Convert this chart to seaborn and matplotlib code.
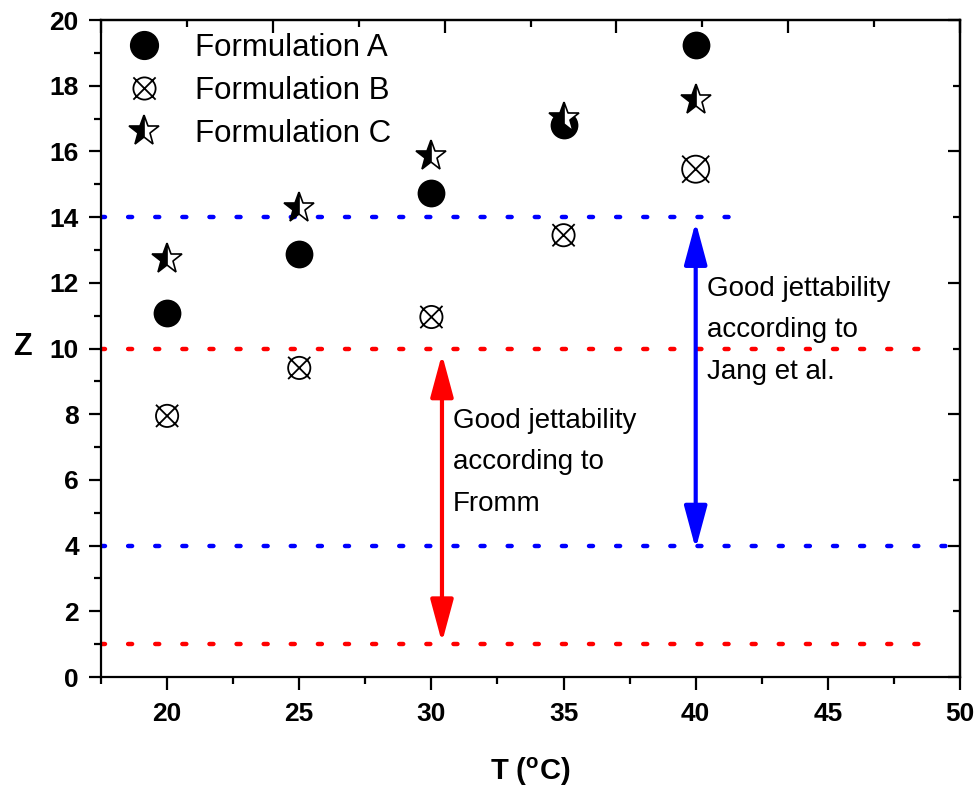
import numpy as np
import pandas as pd
import matplotlib
matplotlib.use("Agg")
import matplotlib.pyplot as plt
from matplotlib.path import Path
from matplotlib.lines import Line2D
import seaborn as sns

# ---------------- data ----------------
temperature = [20, 25, 30, 35, 40]
form_a = [11.08, 12.88, 14.73, 16.80, 19.24]
form_b = [7.95, 9.41, 10.96, 13.45, 15.46]
form_c = [12.72, 14.28, 15.86, 17.02, 17.56]
series_names = ["Formulation A", "Formulation B", "Formulation C"]

fromm_limits = [1, 10]        # red dotted lines
jang_limits = [4, 14]         # blue dotted lines
fromm_line_ends = [49.1, 49.1]
jang_line_ends = [50.0, 41.8]
fromm_arrow_x = 30.4
jang_arrow_x = 40.0
fromm_text = "Good jettability\naccording to\nFromm"
jang_text = "Good jettability\naccording to\nJang et al."

x_ticks = [20, 25, 30, 35, 40, 45, 50]
y_ticks = [0, 2, 4, 6, 8, 10, 12, 14, 16, 18, 20]

# ---------------- style ----------------
sns.set_theme(style="ticks")
plt.rcParams["font.family"] = ["Liberation Sans", "DejaVu Sans"]
plt.rcParams["mathtext.default"] = "regular"
plt.rcParams["axes.linewidth"] = 1.6
for key in ["text.color", "axes.labelcolor", "xtick.color", "ytick.color",
            "axes.edgecolor"]:
    plt.rcParams[key] = "black"

df = pd.DataFrame({"T": temperature, "A": form_a, "B": form_b, "C": form_c})

fig = plt.figure(figsize=(9.77, 7.9), dpi=100)
ax = fig.add_axes([0.1034, 0.143, 0.8792, 0.8316])

# reference lines
dot_style = (0, (0.9, 5.2))
for yv, xe in zip(fromm_limits, fromm_line_ends):
    ax.plot([17.5, xe], [yv, yv], color="#ff0000", linestyle=dot_style,
            linewidth=3.2, dash_capstyle="round", zorder=1)
for yv, xe in zip(jang_limits, jang_line_ends):
    ax.plot([17.5, xe], [yv, yv], color="#0000ff", linestyle=dot_style,
            linewidth=3.2, dash_capstyle="round", zorder=1)

# Formulation A: filled circles
sns.scatterplot(data=df, x="T", y="A", ax=ax, marker="o", s=400,
                color="black", edgecolor="black", linewidth=0, zorder=3)

# Formulation B: circle with X
circ = Path.unit_circle()
xverts = [(-1, -1), (1, 1), (-1, 1), (1, -1)]
xcodes = [Path.MOVETO, Path.LINETO, Path.MOVETO, Path.LINETO]
cross_circle = Path.make_compound_path(circ, Path(xverts, xcodes))
b_sizes = [256, 256, 256, 256, 380]
sns.scatterplot(data=df, x="T", y="B", ax=ax, marker=cross_circle, s=b_sizes,
                color="black", facecolor="none", edgecolor="black",
                linewidth=1.3, zorder=3)

# Formulation C: half-filled stars
sns.lineplot(data=df, x="T", y="C", ax=ax, marker="*", markersize=23,
             linestyle="", color="black", fillstyle="left",
             markerfacecolor="black", markerfacecoloralt="white",
             markeredgecolor="black", markeredgewidth=1.2, zorder=4)

# arrows
arrow_style = "<|-|>,head_length=1.3,head_width=0.35"
ax.annotate("", xy=(fromm_arrow_x, fromm_limits[0] + 0.05),
            xytext=(fromm_arrow_x, fromm_limits[1] - 0.17),
            arrowprops=dict(arrowstyle=arrow_style, color="#ff0000", lw=3,
                            mutation_scale=20, shrinkA=0, shrinkB=0), zorder=5)
ax.annotate("", xy=(jang_arrow_x, jang_limits[0] - 0.1),
            xytext=(jang_arrow_x, jang_limits[1] - 0.14),
            arrowprops=dict(arrowstyle=arrow_style, color="#0000ff", lw=3,
                            mutation_scale=20, shrinkA=0, shrinkB=0), zorder=5)

ax.text(30.8, 6.54, fromm_text, fontsize=20, va="center", ha="left",
        linespacing=1.78)
ax.text(40.42, 10.56, jang_text, fontsize=20, va="center", ha="left",
        linespacing=1.78)

# axes limits / ticks
ax.set_xlim(17.5, 50)
ax.set_ylim(0, 20)
ax.set_xticks(x_ticks)
ax.set_yticks(y_ticks)
ax.set_xticks(np.arange(17.5, 50, 5), minor=True)
ax.set_yticks(np.arange(1, 20, 2), minor=True)
ax.tick_params(axis="both", which="major", direction="out", length=9,
               width=1.6, labelsize=19, pad=7)
ax.tick_params(axis="x", which="major", pad=9)
ax.tick_params(axis="both", which="minor", direction="out", length=5, width=1.6)
for lab in ax.get_xticklabels() + ax.get_yticklabels():
    lab.set_fontweight("bold")

for sp in ax.spines.values():
    sp.set_visible(True)
    sp.set_linewidth(1.6)
    sp.set_color("black")

# mirrored inward ticks on top and right
top = ax.secondary_xaxis("top")
top.set_xticks(np.arange(17.5, 50.1, 6.5))
top.set_xticks(np.arange(20.75, 50, 6.5), minor=True)
top.tick_params(which="major", direction="in", length=9, width=1.6, labeltop=False)
top.tick_params(which="minor", direction="in", length=5, width=1.6)
top.set_xticklabels([])

right = ax.secondary_yaxis("right")
right.set_yticks(np.arange(0, 20.1, 4))
right.set_yticks(np.arange(2, 20, 4), minor=True)
right.tick_params(which="major", direction="in", length=9, width=1.6, labelright=False)
right.tick_params(which="minor", direction="in", length=5, width=1.6)
right.set_yticklabels([])

ax.set_xlabel(r"T ($^{o}$C)", fontsize=21, fontweight="bold")
ax.xaxis.set_label_coords(0.5, -0.145)
ax.xaxis.label.set_va("center")
ax.set_ylabel("Z", fontsize=22, fontweight="bold", rotation=0)
ax.yaxis.set_label_coords(-0.092, 0.503)
ax.yaxis.label.set_va("center")
ax.yaxis.label.set_ha("center")

# legend
handles = [
    Line2D([], [], linestyle="", marker="o", markersize=20,
           markerfacecolor="black", markeredgecolor="black"),
    Line2D([], [], linestyle="", marker=cross_circle, markersize=16,
           markerfacecolor="none", markeredgecolor="black", markeredgewidth=1.3),
    Line2D([], [], linestyle="", marker="*", markersize=23, fillstyle="left",
           markerfacecolor="black", markerfacecoloralt="white",
           markeredgecolor="black", markeredgewidth=1.2),
]
ax.legend(handles, series_names, loc="upper left", bbox_to_anchor=(0.017, 1.0),
          borderaxespad=0, frameon=False, fontsize=22.5, handlelength=1.0,
          handletextpad=1.15, labelspacing=0.42)

fig.savefig("out.png", dpi=100)
